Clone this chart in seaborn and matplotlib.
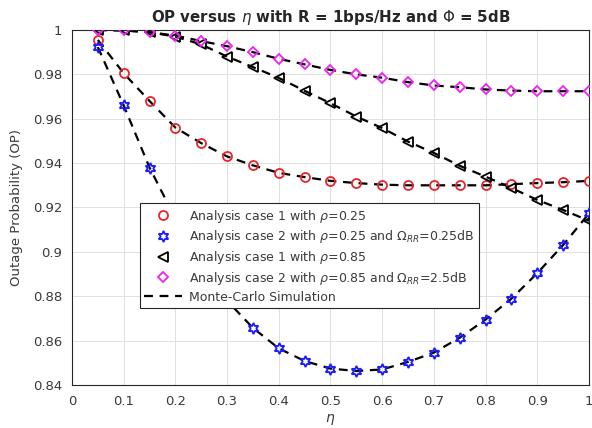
import numpy as np
import pandas as pd
import matplotlib
matplotlib.use("Agg")
import matplotlib.pyplot as plt
from matplotlib.lines import Line2D
import seaborn as sns

# Werte
eta = [0.05, 0.10, 0.15, 0.20, 0.25, 0.30, 0.35, 0.40, 0.45, 0.50,
       0.55, 0.60, 0.65, 0.70, 0.75, 0.80, 0.85, 0.90, 0.95, 1.00]

case1_rho025 = [0.9955, 0.9805, 0.968, 0.956, 0.949, 0.943, 0.939, 0.9356, 0.9337, 0.932,
                0.931, 0.9303, 0.930, 0.930, 0.930, 0.930, 0.9305, 0.931, 0.9314, 0.932]
case2_rho025 = [0.9923, 0.966, 0.938, 0.915, 0.895, 0.878, 0.8657, 0.8565, 0.8508, 0.8474,
                0.8463, 0.847, 0.8504, 0.8546, 0.8613, 0.8695, 0.8789, 0.8904, 0.9031, 0.9173]
case1_rho085 = [1.0, 0.9998, 0.999, 0.997, 0.9935, 0.988, 0.9833, 0.9784, 0.9726, 0.967,
                0.961, 0.9558, 0.9497, 0.9446, 0.9388, 0.9339, 0.9288, 0.9234, 0.9189, 0.914]
case2_rho085 = [1.0, 0.9998, 0.999, 0.9975, 0.995, 0.9927, 0.990, 0.987, 0.9845, 0.982,
                0.980, 0.9785, 0.9765, 0.975, 0.9742, 0.9732, 0.9727, 0.9724, 0.9724, 0.9724]

labels = [r"Analysis case 1 with $\rho$=0.25",
          r"Analysis case 2 with $\rho$=0.25 and $\Omega_{RR}$=0.25dB",
          r"Analysis case 1 with $\rho$=0.85",
          r"Analysis case 2 with $\rho$=0.85 and $\Omega_{RR}$=2.5dB",
          "Monte-Carlo Simulation"]

x_ticks = [0, 0.1, 0.2, 0.3, 0.4, 0.5, 0.6, 0.7, 0.8, 0.9, 1]
x_ticklabels = ["0", "0.1", "0.2", "0.3", "0.4", "0.5", "0.6", "0.7", "0.8", "0.9", "1"]
y_ticks = [0.84, 0.86, 0.88, 0.9, 0.92, 0.94, 0.96, 0.98, 1.0]
y_ticklabels = ["0.84", "0.86", "0.88", "0.9", "0.92", "0.94", "0.96", "0.98", "1"]

sns.set_style("whitegrid")
plt.rcParams['font.family'] = ['DejaVu Sans']
plt.rcParams['mathtext.fontset'] = 'dejavusans'

txt_col = '#3a3a3a'

fig = plt.figure(figsize=(5.92, 4.28), dpi=100)
ax = fig.add_axes([0.1216, 0.1005, 0.8733, 0.8294])

series = [
    (case1_rho025, dict(marker='o', mec='#e8262a', ms=6.5)),
    (case2_rho025, dict(marker=(6, 1, 0), mec='#1a1aff', ms=8)),
    (case1_rho085, dict(marker='<', mec='black', ms=6.5)),
    (case2_rho085, dict(marker='D', mec='#ee22ee', ms=5.5)),
]

# Monte-Carlo Linien (gestrichelt, schwarz)
for vals, _ in series:
    sns.lineplot(x=eta, y=vals, ax=ax, color='black', linestyle=(0, (4, 3)),
                 linewidth=1.6, zorder=2)

# Analyse-Marker
for vals, style in series:
    sns.lineplot(x=eta, y=vals, ax=ax, linestyle='', mfc='none', mew=1.3,
                 zorder=3, **style)

ax.set_xlim(0, 1)
ax.set_ylim(0.84, 1.0)
ax.set_xticks(x_ticks)
ax.set_xticklabels(x_ticklabels)
ax.set_yticks(y_ticks)
ax.set_yticklabels(y_ticklabels)
ax.tick_params(axis='both', labelsize=9.5, colors=txt_col, direction='in',
               length=3, width=0.6)
ax.tick_params(axis='y', pad=7)
ax.tick_params(axis='x', pad=7)
ax.grid(True, color='#e0e0e0', linewidth=0.7)
for sp in ax.spines.values():
    sp.set_color('#262626')
    sp.set_linewidth(0.8)

ax.set_xlabel(r"$\eta$", fontsize=10, color=txt_col, labelpad=3)
ax.set_ylabel("Outage Probability (OP)", fontsize=9.5, color=txt_col, labelpad=7)
ax.set_title(r"OP versus $\eta$ with R = 1bps/Hz and $\Phi$ = 5dB",
             fontsize=10.8, fontweight='bold', pad=6)

handles = [Line2D([], [], linestyle='', mfc='none', mew=1.3, **s) for _, s in series]
handles.append(Line2D([], [], color='black', linestyle=(0, (4, 3)), linewidth=1.6))
leg = ax.legend(handles, labels, loc='lower left', bbox_to_anchor=(0.1315, 0.217),
                fontsize=9, frameon=True, fancybox=False, framealpha=1,
                edgecolor='#262626', borderpad=0.35, labelspacing=0.3,
                handlelength=3.0, handletextpad=0.6, borderaxespad=0)
for t in leg.get_texts():
    t.set_color(txt_col)
leg.get_frame().set_linewidth(0.8)

fig.savefig("out.png", dpi=100)
